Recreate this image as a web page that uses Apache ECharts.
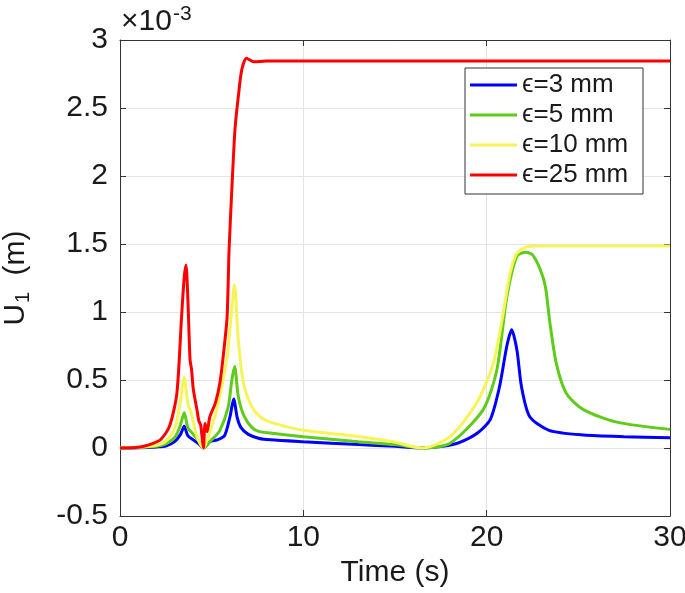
<!DOCTYPE html>
<html>
<head>
<meta charset="utf-8">
<script src="https://cdn.jsdelivr.net/npm/echarts@6/dist/echarts.min.js"></script>
<style>html,body{margin:0;padding:0;background:#fff}#c{width:685px;height:593px}</style>
</head>
<body>
<div id="c"></div>
<script>
// values in units of 1e-3 m
const seriesNames = ['ϵ=3 mm', 'ϵ=5 mm', 'ϵ=10 mm', 'ϵ=25 mm'];
const xTicks = [0, 10, 20, 30];
const yTicks = [-0.5, 0, 0.5, 1, 1.5, 2, 2.5, 3];

const t3 = [0,1,2,2.5,3,3.3,3.5,3.7,4.0,4.3,4.55,4.9,5.3,5.7,6.0,6.2,6.4,6.6,7.0,7.6,8.2,10,13,15,16.5,17.5,18.5,19.5,20.2,20.7,21.1,21.36,21.65,21.9,22.35,23.4,25.3,27.5,30];
const u3 = [0,0.002,0.008,0.015,0.05,0.1,0.16,0.09,0.06,0.03,0,0.046,0.06,0.09,0.23,0.36,0.22,0.15,0.1,0.07,0.06,0.046,0.025,0.012,0,0.01,0.04,0.11,0.21,0.45,0.75,0.87,0.72,0.45,0.23,0.13,0.095,0.083,0.076];

const t5 = [0,1,2,2.5,3,3.3,3.5,3.7,4.0,4.3,4.55,5.0,5.45,5.9,6.1,6.25,6.45,6.75,7.2,7.6,8.2,10,13,15,16.5,18,19.8,20.55,21.1,21.65,22.15,22.5,22.9,23.2,23.45,23.8,24.35,25.3,27.1,30];
const u5 = [0,0.003,0.012,0.03,0.08,0.17,0.26,0.15,0.1,0.05,0,0.06,0.13,0.3,0.5,0.6,0.38,0.24,0.15,0.12,0.11,0.083,0.046,0.025,0,0.035,0.28,0.57,1.11,1.41,1.44,1.42,1.32,1.19,0.92,0.62,0.40,0.28,0.19,0.137];

const t10 = [0,1,2,2.5,3,3.3,3.5,3.7,3.9,4.2,4.55,4.9,5.27,5.82,6.05,6.24,6.45,6.73,7.2,7.64,8.2,10,13.1,14.9,16.5,18,19.45,20.36,20.9,21.27,21.64,22.2,23,30];
const u10 = [0,0.005,0.02,0.05,0.15,0.35,0.52,0.33,0.25,0.08,0,0.12,0.28,0.65,0.95,1.2,0.8,0.48,0.3,0.23,0.19,0.13,0.083,0.046,0,0.083,0.33,0.62,0.99,1.28,1.43,1.48,1.485,1.485];

const t25 = [0,1,1.5,2.2,2.7,3.1,3.36,3.5,3.6,3.7,3.82,3.9,4.0,4.2,4.3,4.4,4.47,4.55,4.64,4.75,4.9,5.2,5.45,5.65,5.84,5.95,6.1,6.27,6.45,6.64,6.9,7.3,8,30];
const u25 = [0,0.005,0.02,0.06,0.16,0.4,0.97,1.25,1.345,1.1,0.65,0.58,0.43,0.28,0.2,0.17,0.09,0,0.18,0.12,0.23,0.33,0.48,0.7,0.96,1.46,1.9,2.34,2.58,2.78,2.865,2.84,2.845,2.845];

const colors = ['#0000ff', '#5fcc1a', '#f5f55a', '#ff0000'];

function pairs(t, u) { return t.map((x, i) => [x, u[i]]); }
const allData = [pairs(t3, u3), pairs(t5, u5), pairs(t10, u10), pairs(t25, u25)];

const FONT = 'Liberation Sans, Arial, Helvetica, sans-serif';
const TXT = '#1a1a1a';
const AX = '#333333';

const chart = echarts.init(document.getElementById('c'));
chart.setOption({
  animation: false,
  backgroundColor: '#fff',
  grid: { left: 120, right: 15, top: 40, bottom: 77, containLabel: false, outerBoundsMode: 'none' },
  xAxis: [{
    type: 'value', min: 0, max: 30, interval: 10,
    name: 'Time (s)', nameLocation: 'middle', nameGap: 40,
    nameTextStyle: { fontFamily: FONT, fontSize: 30, color: TXT },
    axisLine: { show: true, onZero: false, lineStyle: { color: AX, width: 1 } },
    axisTick: { inside: true, length: 6, lineStyle: { color: AX } },
    axisLabel: { fontFamily: FONT, fontSize: 30, color: TXT, margin: 7 },
    splitLine: { show: true, lineStyle: { color: '#e3e3e3', width: 1 } }
  }, {
    type: 'value', min: 0, max: 30, interval: 10, position: 'top',
    axisLine: { show: true, onZero: false, lineStyle: { color: AX, width: 1 } },
    axisTick: { inside: true, length: 6, lineStyle: { color: AX } },
    axisLabel: { show: false }, splitLine: { show: false }
  }],
  yAxis: [{
    type: 'value', min: -0.5, max: 3, interval: 0.5,
    name: 'U{sub|1} (m)', nameLocation: 'middle', nameGap: 87, nameRotate: 90,
    nameTextStyle: { fontFamily: FONT, fontSize: 30, color: TXT,
      rich: { sub: { fontFamily: FONT, fontSize: 20, color: TXT, verticalAlign: 'bottom', padding: [14, 8, 0, 1] } } },
    axisLine: { show: true, onZero: false, lineStyle: { color: AX, width: 1 } },
    axisTick: { inside: true, length: 6, lineStyle: { color: AX } },
    axisLabel: { fontFamily: FONT, fontSize: 30, color: TXT, margin: 12,
      formatter: v => String(Math.round(v * 10) / 10) },
    splitLine: { show: true, lineStyle: { color: '#e3e3e3', width: 1 } }
  }, {
    type: 'value', min: -0.5, max: 3, interval: 0.5, position: 'right',
    axisLine: { show: true, onZero: false, lineStyle: { color: AX, width: 1 } },
    axisTick: { inside: true, length: 6, lineStyle: { color: AX } },
    axisLabel: { show: false }, splitLine: { show: false }
  }],
  legend: {
    data: seriesNames,
    orient: 'vertical',
    left: 465, top: 68,
    padding: [2, 5, 4, 5],
    itemWidth: 47, itemHeight: 3, itemGap: 0,
    icon: 'rect',
    backgroundColor: '#fff',
    borderColor: '#333', borderWidth: 1, borderRadius: 0,
    textStyle: { fontFamily: FONT, fontSize: 26, color: TXT, lineHeight: 30, width: 116 }
  },
  graphic: [{
    type: 'text', left: 121, top: 4,
    style: { text: '×10{sup|-3}', font: '30px ' + FONT, fill: TXT,
      rich: { sup: { fontFamily: FONT, fontSize: 21, fill: TXT, verticalAlign: 'top', padding: [0, 0, 14, 1] } } }
  }],
  series: allData.map((d, i) => ({
    name: seriesNames[i], type: 'line', data: d,
    showSymbol: false, smooth: 0.25, clip: true,
    lineStyle: { color: colors[i], width: 3 },
    itemStyle: { color: colors[i] },
    z: 2 + i
  }))
});
</script>
</body>
</html>
